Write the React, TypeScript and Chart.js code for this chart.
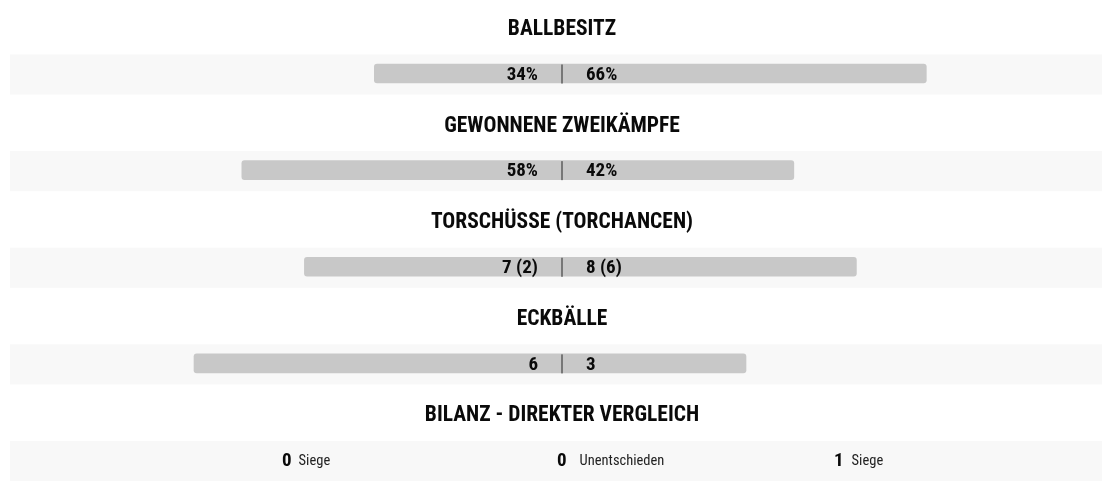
import React, { useEffect, useRef } from "react";
import { Chart, registerables } from "chart.js";

Chart.register(...registerables);

const titles = ["BALLBESITZ", "GEWONNENE ZWEIKÄMPFE", "TORSCHÜSSE (TORCHANCEN)", "ECKBÄLLE", "BILANZ - DIREKTER VERGLEICH"];
const homeValues = [34, 58, 7, 6];
const awayValues = [66, 42, 8, 3];
const homeLabels = ["34%", "58%", "7 (2)", "6"];
const awayLabels = ["66%", "42%", "8 (6)", "3"];
const bilanzNumbers = ["0", "0", "1"];
const bilanzLabels = ["Siege", "Unentschieden", "Siege"];

const FONT = "'Roboto Condensed', 'Liberation Sans Narrow', 'DejaVu Sans Condensed', sans-serif";

export default function App() {
  const ref = useRef<HTMLCanvasElement>(null);
  useEffect(() => {
    const canvas = ref.current!;
    const floating = titles.map((_, i) =>
      i < homeValues.length
        ? [-homeValues[i] / (homeValues[i] + awayValues[i]), awayValues[i] / (homeValues[i] + awayValues[i])]
        : null
    );

    const statsPlugin = {
      id: "stats",
      beforeDatasetsDraw(chart: any) {
        const { ctx } = chart;
        const y = chart.scales.y;
        const x = chart.scales.x;
        const cx = x.getPixelForValue(0);
        ctx.save();
        titles.forEach((t, i) => {
          const yc = y.getPixelForValue(i);
          ctx.fillStyle = "#f8f8f8";
          ctx.fillRect(2, yc - 19, chart.width, 40);
          ctx.fillStyle = "#0a0a0a";
          ctx.font = `bold 21.5px ${FONT}`;
          ctx.textAlign = "center";
          ctx.textBaseline = "middle";
          ctx.fillText(t, cx, yc - 44);
        });
        ctx.restore();
      },
      afterDatasetsDraw(chart: any) {
        const { ctx } = chart;
        const y = chart.scales.y;
        const x = chart.scales.x;
        const cx = x.getPixelForValue(0);
        ctx.save();
        ctx.textBaseline = "middle";
        homeLabels.forEach((hl, i) => {
          const yc = y.getPixelForValue(i);
          ctx.fillStyle = "#777777";
          ctx.fillRect(cx - 1, yc - 9, 2, 19);
          ctx.fillStyle = "#0a0a0a";
          ctx.font = `bold 19px ${FONT}`;
          ctx.textAlign = "right";
          ctx.fillText(hl, cx - 24, yc + 1.5);
          ctx.textAlign = "left";
          ctx.fillText(awayLabels[i], cx + 24, yc + 1.5);
        });
        const yb = y.getPixelForValue(titles.length - 1);
        const offsets = [-280, -5, 272];
        const gaps = [7, 13, 8];
        bilanzNumbers.forEach((n, i) => {
          const sx = cx + offsets[i];
          ctx.textAlign = "left";
          ctx.fillStyle = "#0a0a0a";
          ctx.font = `bold 19px ${FONT}`;
          ctx.fillText(n, sx, yb + 1.5);
          const w = ctx.measureText(n).width;
          ctx.font = `14.5px ${FONT}`;
          ctx.fillStyle = "#222222";
          ctx.fillText(bilanzLabels[i], sx + w + gaps[i], yb + 1.5);
        });
        ctx.restore();
      },
    };

    const lim = 548 / 552;
    const chart = new Chart(canvas, {
      type: "bar",
      data: {
        labels: titles,
        datasets: [
          {
            data: floating as any,
            backgroundColor: "#c8c8c8",
            borderRadius: 3,
            borderSkipped: false,
            barThickness: 19,
            clip: false as any,
          },
        ],
      },
      options: {
        indexAxis: "y",
        animation: false,
        responsive: false,
        layout: { padding: { left: 6, right: 0, top: 65.5, bottom: 24 } },
        plugins: { legend: { display: false }, tooltip: { enabled: false } },
        scales: {
          x: { display: false, min: -lim, max: lim },
          y: { display: false, offset: false },
        },
      },
      plugins: [statsPlugin],
    });
    return () => chart.destroy();
  }, []);
  return (
    <div style={{ width: 1102, height: 476 }}>
      <canvas ref={ref} width={1102} height={476} style={{ display: "block" }} />
    </div>
  );
}
